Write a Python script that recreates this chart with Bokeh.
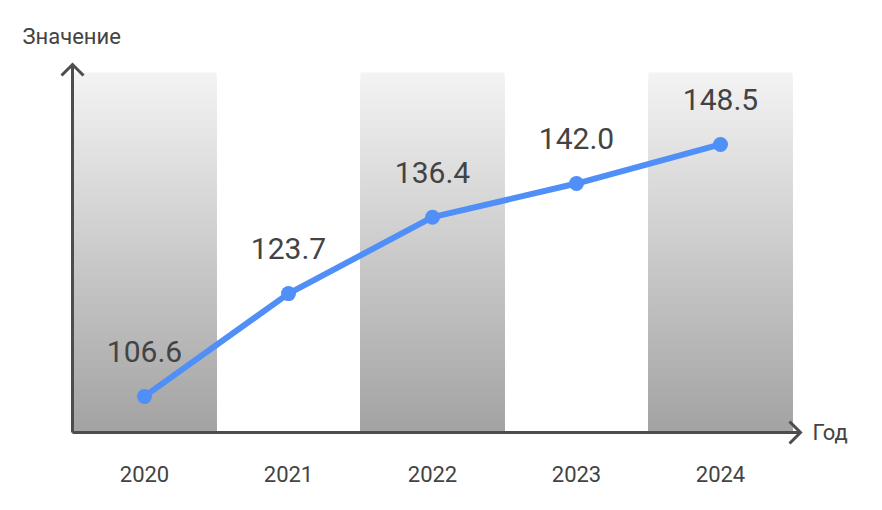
from bokeh.plotting import figure
from bokeh.models import Range1d, ColumnDataSource
from bokeh.core.properties import value
from bokeh.embed import file_html
from bokeh.resources import INLINE

# ---- data ----
years = ["2020", "2021", "2022", "2023", "2024"]
values = [106.6, 123.7, 136.4, 142.0, 148.5]
value_labels = ["106.6", "123.7", "136.4", "142.0", "148.5"]
x_title = "Год"
y_title = "Значение"

# ---- layout constants (pixels / styling) ----
W, H = 866, 494
PX_X = 144.0          # px per category step
PX_Y = 6.014          # px per value unit
Y_BASE = 100.6        # value at x-axis line
AXIS_FY = 432         # x-axis line, px from top of figure
BAND_PX = 360         # band height in px
x_start = -144 / PX_X
x_end = x_start + W / PX_X
y_start = Y_BASE - (H - AXIS_FY) / PX_Y
y_end = Y_BASE + AXIS_FY / PX_Y
band_top = Y_BASE + BAND_PX / PX_Y

FONT = value("Roboto")
TXT = "#434343"
AX = "#4d4d4d"
BLUE = "#4f8ff7"

p = figure(width=W, height=H, output_backend="svg", toolbar_location=None,
           x_range=Range1d(x_start, x_end), y_range=Range1d(y_start, y_end),
           min_border=0, min_border_left=0, min_border_right=0,
           min_border_top=0, min_border_bottom=0)
p.xaxis.visible = False
p.yaxis.visible = False
p.xgrid.visible = False
p.ygrid.visible = False
p.outline_line_color = None
p.background_fill_color = "white"
p.border_fill_color = "white"

xs = list(range(len(years)))

# ---- gradient bands behind even categories ----
N = 120
c_bot = (0xa2, 0xa2, 0xa2)
c_top = (0xf3, 0xf3, 0xf3)
qd = dict(left=[], right=[], top=[], bottom=[], color=[])
for i in xs:
    if i % 2 != 0:
        continue
    for j in range(N - 1, -1, -1):
        t = (j + 1) / N
        col = tuple(round(c_bot[k] + (c_top[k] - c_bot[k]) * t) for k in range(3))
        qd["left"].append(i - 0.5)
        qd["right"].append(i + 0.5)
        qd["bottom"].append(Y_BASE)
        qd["top"].append(Y_BASE + (band_top - Y_BASE) * t)
        qd["color"].append("#%02x%02x%02x" % col)
p.quad(source=ColumnDataSource(qd), left="left", right="right", top="top",
       bottom="bottom", fill_color="color", line_color=None)

# ---- axes with arrows ----
ax_x = -0.5
tip_y = band_top + 8 / PX_Y
tip_x = (len(years) - 0.5) + 8 / PX_X
p.segment(x0=[ax_x, ax_x], y0=[Y_BASE, Y_BASE], x1=[ax_x, tip_x], y1=[tip_y, Y_BASE],
          line_color=AX, line_width=3)
a = 11
p.multi_line(
    xs=[[ax_x - a / PX_X, ax_x, ax_x + a / PX_X],
        [tip_x - a / PX_X, tip_x, tip_x - a / PX_X]],
    ys=[[tip_y - a / PX_Y, tip_y, tip_y - a / PX_Y],
        [Y_BASE + a / PX_Y, Y_BASE, Y_BASE - a / PX_Y]],
    line_color=AX, line_width=3, line_join="miter")

# ---- series ----
src = ColumnDataSource(dict(x=xs, y=values, lab=value_labels, yr=years,
                            base=[Y_BASE] * len(years)))
p.line("x", "y", source=src, line_color=BLUE, line_width=6)
p.scatter("x", "y", source=src, size=15, fill_color=BLUE, line_color=None)
p.text("x", "y", text="lab", source=src, y_offset=-45, text_align="center",
       text_baseline="middle", text_font=FONT, text_font_size="30px", text_color=TXT)

# ---- tick labels ----
p.text("x", "base", text="yr", source=src, y_offset=41, text_align="center",
       text_baseline="middle", text_font=FONT, text_font_size="22px", text_color=TXT)

# ---- axis titles ----
p.text(x=[ax_x], y=[band_top], text=[y_title], x_offset=-50, y_offset=-36,
       text_align="left", text_baseline="middle", text_font=FONT,
       text_font_size="22px", text_color=TXT)
p.text(x=[tip_x], y=[Y_BASE], text=[x_title], x_offset=12, y_offset=0,
       text_align="left", text_baseline="middle", text_font=FONT,
       text_font_size="22px", text_color=TXT)

open("out.html", "w").write(file_html(p, INLINE))
